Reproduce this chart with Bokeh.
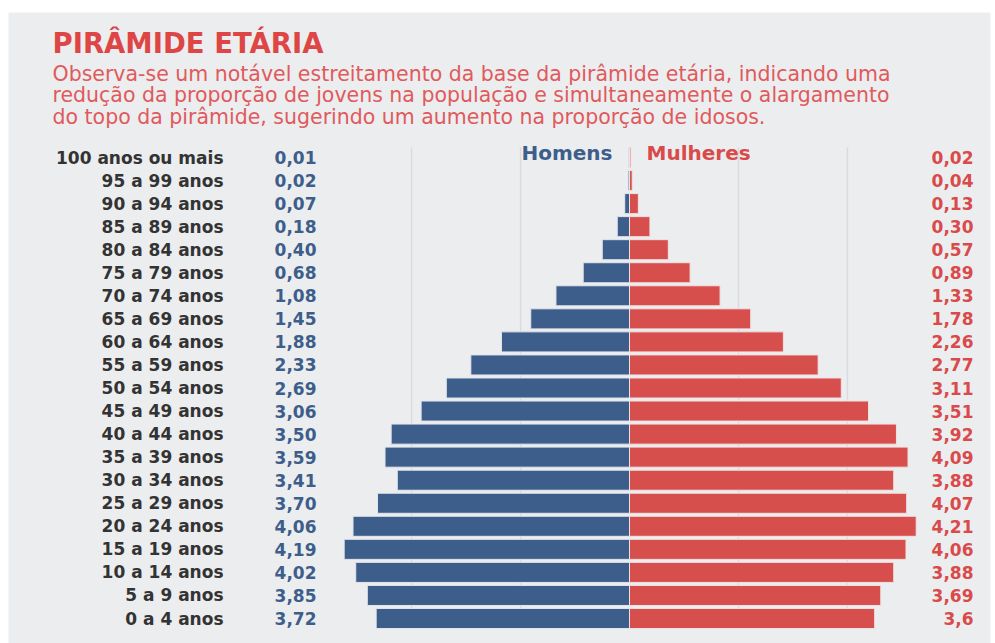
from bokeh.plotting import figure
from bokeh.models import ColumnDataSource, Range1d, Label
from bokeh.core.properties import value
from bokeh.embed import file_html
from bokeh.resources import INLINE

# ---------------- data (youngest -> oldest) ----------------
ages = ["0 a 4 anos", "5 a 9 anos", "10 a 14 anos", "15 a 19 anos", "20 a 24 anos",
        "25 a 29 anos", "30 a 34 anos", "35 a 39 anos", "40 a 44 anos", "45 a 49 anos",
        "50 a 54 anos", "55 a 59 anos", "60 a 64 anos", "65 a 69 anos", "70 a 74 anos",
        "75 a 79 anos", "80 a 84 anos", "85 a 89 anos", "90 a 94 anos", "95 a 99 anos",
        "100 anos ou mais"]
men = [3.72, 3.85, 4.02, 4.19, 4.06, 3.70, 3.41, 3.59, 3.50, 3.06, 2.69, 2.33,
       1.88, 1.45, 1.08, 0.68, 0.40, 0.18, 0.07, 0.02, 0.01]
women = [3.6, 3.69, 3.88, 4.06, 4.21, 4.07, 3.88, 4.09, 3.92, 3.51, 3.11, 2.77,
         2.26, 1.78, 1.33, 0.89, 0.57, 0.30, 0.13, 0.04, 0.02]
men_labels = ["3,72", "3,85", "4,02", "4,19", "4,06", "3,70", "3,41", "3,59", "3,50",
              "3,06", "2,69", "2,33", "1,88", "1,45", "1,08", "0,68", "0,40", "0,18",
              "0,07", "0,02", "0,01"]
women_labels = ["3,6", "3,69", "3,88", "4,06", "4,21", "4,07", "3,88", "4,09", "3,92",
                "3,51", "3,11", "2,77", "2,26", "1,78", "1,33", "0,89", "0,57", "0,30",
                "0,13", "0,04", "0,02"]
grid_ticks = [-3.2, -1.6, 1.6, 3.2]

title = "PIRÂMIDE ETÁRIA"
subtitle = ["Observa-se um notável estreitamento da base da pirâmide etária, indicando uma",
            "redução da proporção de jovens na população e simultaneamente o alargamento",
            "do topo da pirâmide, sugerindo um aumento na proporção de idosos."]

# ---------------- styles / geometry ----------------
BG = "#ECEDEF"
BLUE = "#3D5E8B"
RED = "#D64F4D"
RED_TXT = "#D94A4A"
DARK = "#333333"

PX_PER_UNIT = 68.1
CX = 629.0
ROW0 = 618.0
ROW_H = 23.05


def X(px):
    return (px - CX) / PX_PER_UNIT


def Y(py):
    return (ROW0 - py) / ROW_H


idx = list(range(len(ages)))
src = ColumnDataSource(dict(
    y=idx, age=ages,
    men_left=[-v for v in men], men=men, women=women,
    men_lab=men_labels, women_lab=women_labels,
    zero=[0] * len(ages),
))

p = figure(width=995, height=643, output_backend="svg", toolbar_location=None,
           x_axis_location=None, y_axis_location=None,
           x_range=Range1d(X(8), X(990)), y_range=Range1d(Y(643), Y(12)),
           min_border_left=8, min_border_right=5, min_border_top=12, min_border_bottom=0,
           background_fill_color=BG, border_fill_color="white")
p.outline_line_color = None
p.grid.visible = False

# gridlines
p.segment(x0=grid_ticks, x1=grid_ticks, y0=[Y(147)] * 4, y1=[Y(628)] * 4,
          line_color="#D9DBDE", line_width=1.5)

# bars
p.hbar(y="y", left="men_left", right="zero", height=0.87, source=src,
       fill_color=BLUE, line_color="#E3E6EB", line_width=1)
p.hbar(y="y", left="zero", right="women", height=0.87, source=src,
       fill_color=RED, line_color="#F0E2E2", line_width=1)

# row texts
FS = "17px"
p.text(x=X(223), y="y", text="age", source=src, text_align="right",
       text_baseline="middle", text_font=value("DejaVu Sans"), text_font_style="bold",
       text_font_size=FS, text_color=DARK)
p.text(x=X(316), y="y", text="men_lab", source=src, text_align="right",
       text_baseline="middle", text_font=value("DejaVu Sans"), text_font_style="bold",
       text_font_size=FS, text_color=BLUE)
p.text(x=X(973), y="y", text="women_lab", source=src, text_align="right",
       text_baseline="middle", text_font=value("DejaVu Sans"), text_font_style="bold",
       text_font_size=FS, text_color=RED_TXT)

# legend-like headers
p.add_layout(Label(x=X(612), y=Y(152), text="Homens", text_align="right",
                   text_baseline="middle", text_font="DejaVu Sans", text_font_style="bold",
                   text_font_size="20px", text_color=BLUE))
p.add_layout(Label(x=X(646), y=Y(152), text="Mulheres", text_align="left",
                   text_baseline="middle", text_font="DejaVu Sans", text_font_style="bold",
                   text_font_size="20px", text_color=RED_TXT))

# title and subtitle
p.add_layout(Label(x=X(52), y=Y(42), text=title, text_align="left",
                   text_baseline="middle", text_font="DejaVu Sans",
                   text_font_style="bold", text_font_size="27.5px", text_color="#DE4646"))
for i, line in enumerate(subtitle):
    p.add_layout(Label(x=X(52), y=Y(73 + i * 21.5), text=line, text_align="left",
                       text_baseline="middle", text_font="DejaVu Sans",
                       text_font_size="20.5px", text_color="#E05A5C"))

open("out.html", "w").write(file_html(p, INLINE))
